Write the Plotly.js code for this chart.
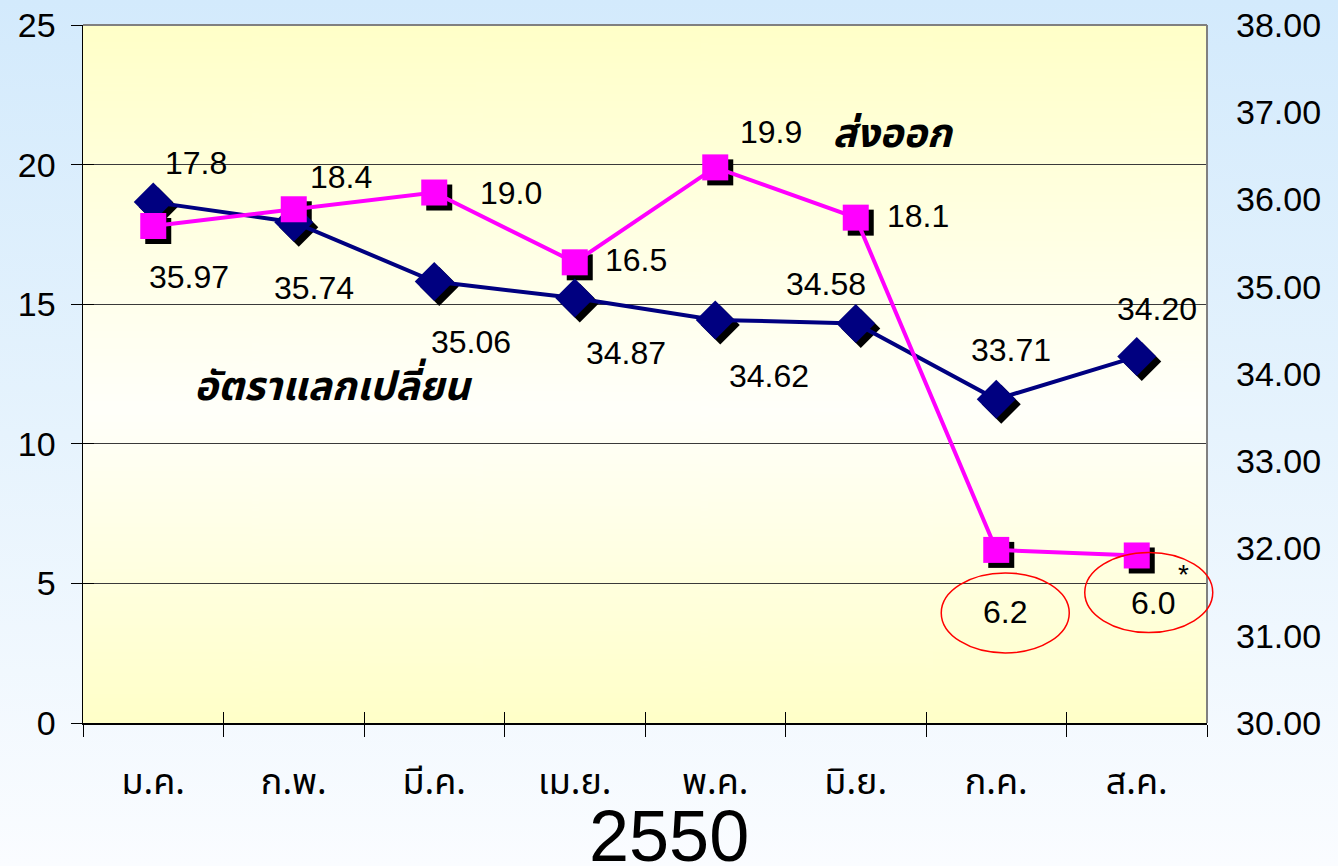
<!DOCTYPE html>
<html><head><meta charset="utf-8">
<script src="https://cdn.plot.ly/plotly-3.0.1.min.js"></script>
<style>
html,body{margin:0;padding:0;width:1338px;height:866px;overflow:hidden;
background:linear-gradient(to bottom,#d3eafc 0%,#e6f3fd 50%,#fafcff 100%);}
#chart{width:1338px;height:866px;}
</style></head><body><div id="chart"></div>
<script>
// ---- data ----
const months = ['ม.ค.','ก.พ.','มี.ค.','เม.ย.','พ.ค.','มิ.ย.','ก.ค.','ส.ค.'];
const exportGrowth = [17.8,18.4,19.0,16.5,19.9,18.1,6.2,6.0];
const exchangeRate = [35.97,35.74,35.06,34.87,34.62,34.58,33.71,34.20];
const exportLabel = 'ส่งออก';
const rateLabel = 'อัตราแลกเปลี่ยน';
const yearLabel = '2550';

// ---- style ----
const exportLabelShift = [[43,63],[47,32],[77,0],[61,2],[56,35],[62,2],[9,-62],[16,-48]];
const rateLabelShift = [[36,-75],[20,-66],[37,-60],[51,-55],[54,-56],[-30,39],[15,49],[20,48]];
const FONT = '"Liberation Sans", Arial, sans-serif';
const THAI = '"Noto Sans Thai", "Noto Sans", "DejaVu Sans", sans-serif';

// plot area gradient image
const cv = document.createElement('canvas'); cv.width = 10; cv.height = 400;
const cx = cv.getContext('2d');
const g = cx.createLinearGradient(0,0,0,400);
g.addColorStop(0,'#ffffc8'); g.addColorStop(0.55,'#fffffa'); g.addColorStop(1,'#ffffc8');
cx.fillStyle = g; cx.fillRect(0,0,10,400);
const bgURL = cv.toDataURL();

const W = 1124, H = 698;
const sx = 5/(W/8), sy1 = 5/H*25, sy2 = 5/H*8;

const traces = [
  // shadows (base subplot, drawn first)
  {x: months, y: exportGrowth, xaxis:'x', yaxis:'y', mode:'markers', cliponaxis:false,
   marker:{symbol:'square', size:26, color:'#000'}, hoverinfo:'skip', showlegend:false},
  {x: months, y: exchangeRate, xaxis:'x', yaxis:'y3', mode:'markers', cliponaxis:false,
   marker:{symbol:'diamond', size:30, color:'#000'}, hoverinfo:'skip', showlegend:false},
  // main
  {x: months, y: exchangeRate, xaxis:'x2', yaxis:'y2', mode:'lines+markers', cliponaxis:false,
   line:{color:'#000080', width:4}, marker:{symbol:'diamond', size:30, color:'#000080'}, showlegend:false},
  {x: months, y: exportGrowth, xaxis:'x2', yaxis:'y5', mode:'lines+markers', cliponaxis:false,
   line:{color:'#ff00ff', width:4}, marker:{symbol:'square', size:26, color:'#ff00ff'}, showlegend:false},
  // inner tick helper
  {x: months, y: exportGrowth, xaxis:'x4', yaxis:'y6', mode:'markers', marker:{opacity:0}, hoverinfo:'skip', showlegend:false},
  // series name labels
  {x:[0.2215, 0.7198], y:[0.477, 0.8395], xaxis:'x5', yaxis:'y7', mode:'text', cliponaxis:false,
   text:[rateLabel, exportLabel], textposition:'middle center',
   textfont:{family:THAI, size:40, color:'#000', weight:'bold', style:'italic'}, hoverinfo:'skip', showlegend:false}
];

const annotations = [];
months.forEach((m,i)=>{
  annotations.push({x:m, y:exportGrowth[i], xref:'x2', yref:'y5', text:exportGrowth[i].toFixed(1),
    showarrow:false, xshift:exportLabelShift[i][0], yshift:exportLabelShift[i][1],
    font:{family:FONT, size:32, color:'#000'}});
  annotations.push({x:m, y:exchangeRate[i], xref:'x2', yref:'y2', text:exchangeRate[i].toFixed(2),
    showarrow:false, xshift:rateLabelShift[i][0], yshift:rateLabelShift[i][1],
    font:{family:FONT, size:32, color:'#000'}});
});
annotations.push({x:months[7], y:exportGrowth[7], xref:'x2', yref:'y5', text:'*', showarrow:false,
  xshift:47, yshift:-19, font:{family:FONT, size:28, color:'#000'}});
annotations.push({x:0.5214, y:-0.222, xref:'paper', yref:'paper', text:yearLabel,
  showarrow:false, font:{family:FONT, size:72, color:'#000'}});

const idx62 = (months.indexOf(months[6]) + 0.5) / months.length;
const idx60 = (months.indexOf(months[7]) + 0.5) / months.length;
const shapes = [
  {type:'line', xref:'paper', yref:'paper', x0:0, x1:1, y0:1, y1:1, line:{color:'#808080', width:2}},
  {type:'line', xref:'paper', yref:'paper', x0:1, x1:1, y0:0, y1:1, line:{color:'#808080', width:2}},
  {type:'circle', xref:'paper', yref:'y5', xsizemode:'pixel', ysizemode:'pixel',
   xanchor:idx62, yanchor:exportGrowth[6], x0:-55, x1:73, y0:-103, y1:-23,
   line:{color:'#ff0000', width:1.5}, layer:'above'},
  {type:'circle', xref:'paper', yref:'y5', xsizemode:'pixel', ysizemode:'pixel',
   xanchor:idx60, yanchor:exportGrowth[7], x0:-52, x1:76, y0:-77, y1:3,
   line:{color:'#ff0000', width:1.5}, layer:'above'}
];

const layout = {
  width:1338, height:866,
  margin:{l:83, r:131, t:25, b:143},
  paper_bgcolor:'rgba(0,0,0,0)', plot_bgcolor:'rgba(0,0,0,0)',
  showlegend:false,
  images:[{source:bgURL, xref:'paper', yref:'paper', x:0, y:1, sizex:1, sizey:1,
           sizing:'stretch', xanchor:'left', yanchor:'top', layer:'below'}],
  // shadow axes (base)
  xaxis:{type:'category', range:[-0.5-sx,7.5-sx], visible:false, fixedrange:true},
  yaxis:{range:[0+sy1,25+sy1], visible:false, fixedrange:true},
  yaxis3:{range:[30+sy2,38+sy2], overlaying:'y', visible:false},
  // visible axes
  xaxis2:{type:'category', overlaying:'x', anchor:'y5', range:[-0.5,7.5], showgrid:false, showline:true,
    linecolor:'#000', linewidth:1.5,
    ticks:'outside', ticklen:12, tickcolor:'#000', tickwidth:1, tickson:'boundaries',
    tickfont:{family:THAI, size:36, color:'#000'}, ticklabelstandoff:26, zeroline:false},
  yaxis5:{range:[0,25], dtick:5, overlaying:'y', anchor:'x2', side:'left', showgrid:true, gridcolor:'#3a3a3a',
    gridwidth:1, showline:true, linecolor:'#000',
    linewidth:1.5, ticks:'outside', ticklen:11, tickcolor:'#000', tickwidth:1,
    tickfont:{family:FONT, size:34, color:'#000'}, ticklabelstandoff:8, zeroline:false},
  yaxis2:{range:[30,38], dtick:1, tickformat:'.2f', overlaying:'y', anchor:'x2', side:'right', showgrid:false,
    showline:false, ticks:'', tickfont:{family:FONT, size:34, color:'#000'}, ticklabelstandoff:28, zeroline:false},
  // inner tick helpers
  xaxis4:{type:'category', overlaying:'x', anchor:'y6', range:[-0.5,7.5], showgrid:false, showline:false,
    ticks:'inside', ticklen:11, tickcolor:'#000', tickwidth:1, tickson:'boundaries',
    showticklabels:false, zeroline:false},
  yaxis6:{range:[0,25], dtick:5, overlaying:'y', anchor:'x4', showgrid:false, showline:false, ticks:'inside', ticklen:11,
    tickcolor:'#000', tickwidth:1, showticklabels:false, zeroline:false},
  // label overlay
  xaxis5:{range:[0,1], overlaying:'x', anchor:'y7', visible:false},
  yaxis7:{range:[0,1], overlaying:'y', anchor:'x5', visible:false},
  annotations: annotations,
  shapes: shapes
};
Plotly.newPlot('chart', traces, layout, {displayModeBar:false, staticPlot:true});
</script></body></html>
